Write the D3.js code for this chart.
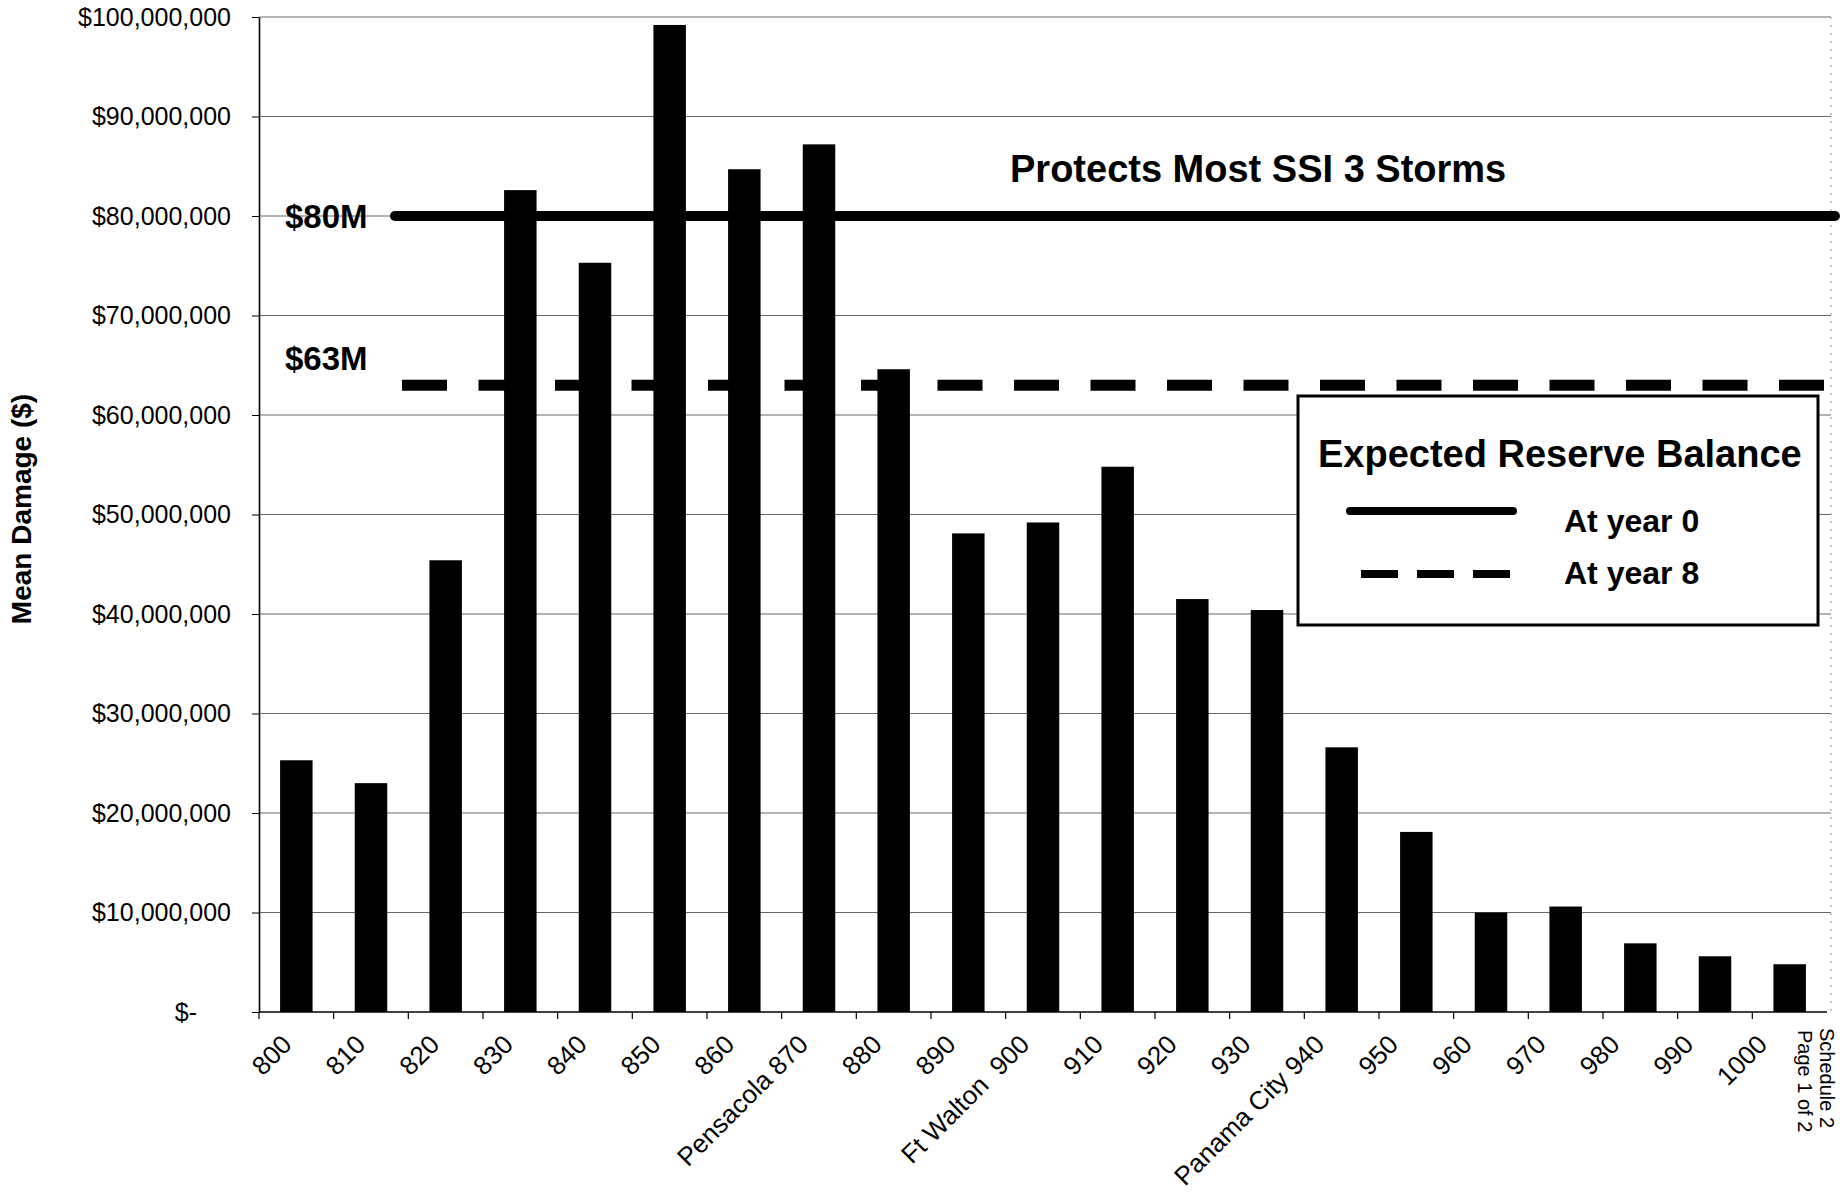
<!DOCTYPE html>
<html>
<head>
<meta charset="utf-8">
<script src="https://cdn.jsdelivr.net/npm/d3@7"></script>
<style>
  html, body { margin: 0; padding: 0; background: #fff; }
  svg { display: block; font-family: "Liberation Sans", Arial, Helvetica, sans-serif; }
</style>
</head>
<body>
<svg id="chart" width="1842" height="1204"></svg>
<script>
// Storm landfall mileposts along the coast
const categories = ["800","810","820","830","840","850","860","870","880","890",
                    "900","910","920","930","940","950","960","970","980","990","1000"];
// Axis text for each milepost (towns noted beside their mileposts)
const categoryLabels = ["800","810","820","830","840","850","860","Pensacola 870","880","890",
                        "Ft Walton  900","910","920","930","Panama City 940","950","960","970","980","990","1000"];
// Mean damage per milepost, $ millions
const meanDamageM = [25.3, 23.0, 45.4, 82.6, 75.3, 99.2, 84.7, 87.2, 64.6, 48.1,
                     49.2, 54.8, 41.5, 40.4, 26.6, 18.1, 10.0, 10.6, 6.9, 5.6, 4.8];
// Value axis ticks, $
const yTicks = [0, 10e6, 20e6, 30e6, 40e6, 50e6, 60e6, 70e6, 80e6, 90e6, 100e6];
// Expected reserve balance levels
const reserveLabels = ["$80M", "$63M"];
const reserveValues = [80e6, 63e6];
const legendLabels = ["At year 0", "At year 8"];

(function draw() {
  const svg = d3.select("#chart");
  const plotLeft = 259, plotRight = 1827, plotTop = 17, plotBottom = 1012;

  const x = d3.scaleBand()
    .domain(categories)
    .range([plotLeft, plotRight])
    .paddingInner(0.565)
    .paddingOuter(0.2825);

  const y = d3.scaleLinear()
    .domain([0, 100e6])
    .range([plotBottom, plotTop]);

  // gridlines
  svg.append("g")
    .selectAll("line")
    .data(yTicks.filter(d => d > 0))
    .join("line")
    .attr("x1", plotLeft).attr("x2", plotRight + 4)
    .attr("y1", d => y(d)).attr("y2", d => y(d))
    .attr("stroke", "#666")
    .attr("stroke-width", 1);

  // faint right border of the plot area
  svg.append("line")
    .attr("x1", plotRight + 4).attr("x2", plotRight + 4)
    .attr("y1", y(100e6)).attr("y2", plotBottom)
    .attr("stroke", "#999")
    .attr("stroke-width", 1)
    .attr("stroke-dasharray", "2,6");

  // bars
  svg.append("g")
    .selectAll("rect")
    .data(categories)
    .join("rect")
    .attr("x", d => x(d))
    .attr("width", x.bandwidth())
    .attr("y", (d, i) => y(meanDamageM[i] * 1e6))
    .attr("height", (d, i) => plotBottom - y(meanDamageM[i] * 1e6))
    .attr("fill", "#000");

  // y axis
  const yAxis = svg.append("g")
    .attr("transform", `translate(${plotLeft},0)`)
    .call(d3.axisLeft(y)
      .tickValues(yTicks)
      .tickSize(7)
      .tickSizeOuter(0)
      .tickPadding(22)
      .tickFormat(d => d === 0 ? "$-" : "$" + d3.format(",")(d)));
  yAxis.select(".domain").attr("stroke", "#000").attr("stroke-width", 1.6);
  yAxis.selectAll(".tick line").attr("stroke", "#000");
  yAxis.selectAll(".tick text")
    .attr("font-size", 25)
    .attr("font-family", "'Liberation Sans', Arial, sans-serif")
    .attr("fill", "#000")
    .attr("x", d => d === 0 ? -62 : -28);

  // x axis line and ticks at category boundaries
  svg.append("line")
    .attr("x1", plotLeft).attr("x2", plotRight)
    .attr("y1", plotBottom).attr("y2", plotBottom)
    .attr("stroke", "#000").attr("stroke-width", 1.6);
  svg.append("g")
    .selectAll("line")
    .data(categories)
    .join("line")
    .attr("x1", d => x(d) + x.bandwidth() / 2 - x.step() / 2)
    .attr("x2", d => x(d) + x.bandwidth() / 2 - x.step() / 2)
    .attr("y1", plotBottom).attr("y2", plotBottom + 7)
    .attr("stroke", "#000").attr("stroke-width", 1.2);

  // x tick labels, rotated; they drift slightly left of the bars toward the right
  svg.append("g")
    .selectAll("text")
    .data(categories)
    .join("text")
    .attr("transform", (d, i) =>
      `translate(${x(d) + x.bandwidth() / 2 - 3 - i * 0.9},1046) rotate(-45)`)
    .attr("text-anchor", "end")
    .attr("font-size", 26)
    .attr("xml:space", "preserve")
    .style("white-space", "pre")
    .text((d, i) => categoryLabels[i]);

  // y axis title
  svg.append("text")
    .attr("transform", "translate(31,509) rotate(-90)")
    .attr("text-anchor", "middle")
    .attr("font-size", 28)
    .attr("font-weight", "bold")
    .text("Mean Damage ($)");

  // reserve balance lines
  svg.append("line")
    .attr("x1", 395).attr("x2", 1835)
    .attr("y1", y(reserveValues[0])).attr("y2", y(reserveValues[0]))
    .attr("stroke", "#000").attr("stroke-width", 10)
    .attr("stroke-linecap", "round");
  svg.append("line")
    .attr("x1", 402).attr("x2", plotRight)
    .attr("y1", y(reserveValues[1])).attr("y2", y(reserveValues[1]))
    .attr("stroke", "#000").attr("stroke-width", 11)
    .attr("stroke-dasharray", "45,31.5");

  // reserve labels
  svg.append("text")
    .attr("x", 285).attr("y", y(reserveValues[0]) + 12)
    .attr("font-size", 33).attr("font-weight", "bold")
    .text(reserveLabels[0]);
  svg.append("text")
    .attr("x", 285).attr("y", y(reserveValues[1]) - 15)
    .attr("font-size", 33).attr("font-weight", "bold")
    .text(reserveLabels[1]);

  // annotation
  svg.append("text")
    .attr("x", 1010).attr("y", 182)
    .attr("font-size", 38).attr("font-weight", "bold")
    .text("Protects Most SSI 3 Storms");

  // legend
  const lg = svg.append("g");
  lg.append("rect")
    .attr("x", 1298).attr("y", 396).attr("width", 520).attr("height", 229)
    .attr("fill", "#fff").attr("stroke", "#000").attr("stroke-width", 3);
  lg.append("text")
    .attr("x", 1318).attr("y", 467)
    .attr("font-size", 38).attr("font-weight", "bold")
    .text("Expected Reserve Balance");
  lg.append("line")
    .attr("x1", 1350).attr("x2", 1513).attr("y1", 511).attr("y2", 511)
    .attr("stroke", "#000").attr("stroke-width", 8).attr("stroke-linecap", "round");
  lg.append("line")
    .attr("x1", 1361).attr("x2", 1510).attr("y1", 574).attr("y2", 574)
    .attr("stroke", "#000").attr("stroke-width", 8).attr("stroke-dasharray", "37,19");
  lg.append("text")
    .attr("x", 1564).attr("y", 532)
    .attr("font-size", 32).attr("font-weight", "bold")
    .text(legendLabels[0]);
  lg.append("text")
    .attr("x", 1564).attr("y", 584)
    .attr("font-size", 32).attr("font-weight", "bold")
    .text(legendLabels[1]);

  // page stamp along the right edge
  svg.append("text")
    .attr("transform", "translate(1820,1028) rotate(90)")
    .attr("font-size", 20)
    .text("Schedule 2");
  svg.append("text")
    .attr("transform", "translate(1798,1030) rotate(90)")
    .attr("font-size", 20)
    .text("Page 1 of 2");
})();
</script>
</body>
</html>
